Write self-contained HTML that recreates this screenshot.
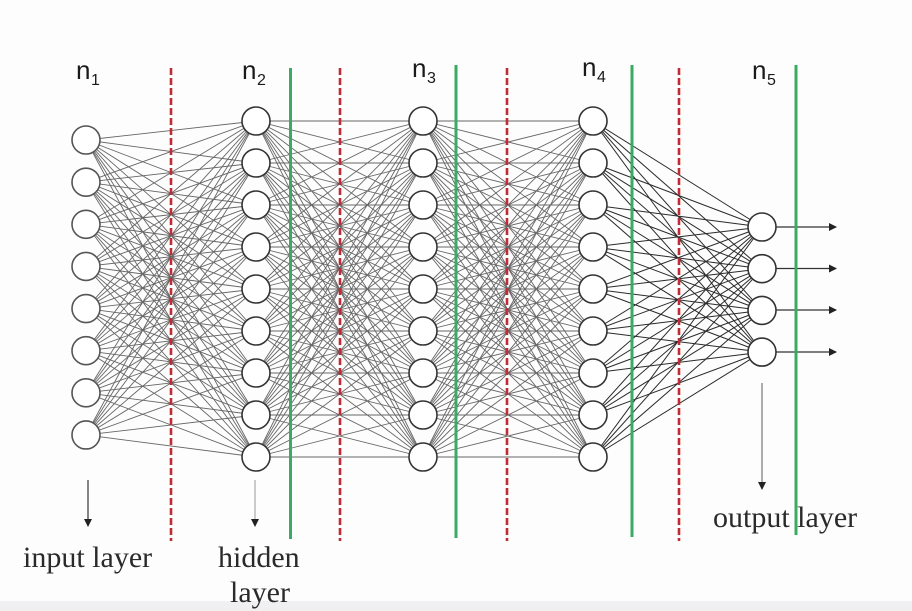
<!DOCTYPE html>
<html><head><meta charset="utf-8">
<style>
html,body{margin:0;padding:0;background:#fdfdfd;}
svg{display:block;}
.lab{font-family:"Liberation Sans",sans-serif;font-size:26px;fill:#1a1a1a;}
.sub{font-family:"Liberation Sans",sans-serif;font-size:16px;fill:#1a1a1a;}
.ser{font-family:"Liberation Serif",serif;font-size:30px;fill:#2a2a2a;}
</style></head>
<body>
<svg id="s" width="912" height="611" viewBox="0 0 912 611" xmlns="http://www.w3.org/2000/svg">
<defs>
<marker id="ah" markerWidth="8" markerHeight="8" refX="7" refY="4" orient="auto" markerUnits="userSpaceOnUse">
<path d="M0,0 L8,4 L0,8 Z" fill="#222"/>
</marker>
</defs>
<rect x="0" y="0" width="912" height="611" fill="#fdfdfd"/>
<rect x="0" y="601" width="912" height="10" fill="#f0f0f2"/>
<g id="conn"></g>
<g id="outarrows" stroke="#333" stroke-width="1.2">
<line x1="776" y1="227" x2="836" y2="227" marker-end="url(#ah)"/>
<line x1="776" y1="268.5" x2="836" y2="268.5" marker-end="url(#ah)"/>
<line x1="776" y1="310" x2="836" y2="310" marker-end="url(#ah)"/>
<line x1="776" y1="352" x2="836" y2="352" marker-end="url(#ah)"/>
</g>
<g id="nodes"></g>
<!-- dashed red -->
<g stroke="#c22a35" stroke-width="2.6" stroke-dasharray="7,3">
<line x1="171" y1="68" x2="171" y2="541"/>
<line x1="340" y1="68" x2="340" y2="541"/>
<line x1="507" y1="68" x2="507" y2="541"/>
<line x1="679" y1="68" x2="679" y2="541"/>
</g>
<!-- green -->
<g stroke="#3aab62" stroke-width="3">
<line x1="290.5" y1="68" x2="290.5" y2="539"/>
<line x1="456" y1="65" x2="456" y2="538"/>
<line x1="632" y1="65" x2="632" y2="537"/>
<line x1="796" y1="65" x2="796" y2="535"/>
</g>
<!-- top labels -->
<text class="lab" x="76" y="79">n</text><text class="sub" x="91" y="85">1</text>
<text class="lab" x="242" y="79">n</text><text class="sub" x="257" y="85">2</text>
<text class="lab" x="412" y="77">n</text><text class="sub" x="427" y="83">3</text>
<text class="lab" x="582" y="76">n</text><text class="sub" x="597" y="82">4</text>
<text class="lab" x="752" y="79">n</text><text class="sub" x="767" y="85">5</text>
<!-- down arrows -->
<g stroke="#333" stroke-width="1.2">
<line x1="88" y1="480" x2="88" y2="526" marker-end="url(#ah)"/>
<line x1="255" y1="480" x2="255" y2="526" stroke="#aaa" marker-end="url(#ah)"/>
<line x1="762" y1="383" x2="762" y2="489" stroke="#777" marker-end="url(#ah)"/>
</g>
<!-- bottom labels -->
<text class="ser" x="23" y="567">input layer</text>
<text class="ser" x="218" y="567">hidden</text>
<text class="ser" x="230" y="602">layer</text>
<text class="ser" x="713" y="527">output layer</text>
</svg>
<script>
(function(){
var NS="http://www.w3.org/2000/svg";
function ys(start,step,n){var a=[];for(var i=0;i<n;i++)a.push(start+step*i);return a;}
var layers=[
 {x:86,y:ys(140,42.14,8)},
 {x:256,y:ys(121,42,9)},
 {x:423,y:ys(121,42,9)},
 {x:593,y:ys(121,42,9)},
 {x:762,y:ys(227,41.7,4)}
];
var conn=document.getElementById('conn');
for(var l=0;l<4;l++){
 var A=layers[l],B=layers[l+1];
 var col=(l==3)?'#2a2a2a':'#666';
 var w=(l==3)?'1':'0.9';
 for(var i=0;i<A.y.length;i++)for(var j=0;j<B.y.length;j++){
  var ln=document.createElementNS(NS,'line');
  ln.setAttribute('x1',A.x);ln.setAttribute('y1',A.y[i]);
  ln.setAttribute('x2',B.x);ln.setAttribute('y2',B.y[j]);
  ln.setAttribute('stroke',col);ln.setAttribute('stroke-width',w);
  conn.appendChild(ln);
 }
}
var nodes=document.getElementById('nodes');
for(var l=0;l<5;l++){
 var L=layers[l];
 for(var i=0;i<L.y.length;i++){
  var c=document.createElementNS(NS,'circle');
  c.setAttribute('cx',L.x);c.setAttribute('cy',L.y[i]);c.setAttribute('r',14);
  c.setAttribute('fill','#fff');c.setAttribute('stroke',l==0?'#555':'#333');
  c.setAttribute('stroke-width','1.6');
  nodes.appendChild(c);
 }
}
})();
</script>
</body></html>
